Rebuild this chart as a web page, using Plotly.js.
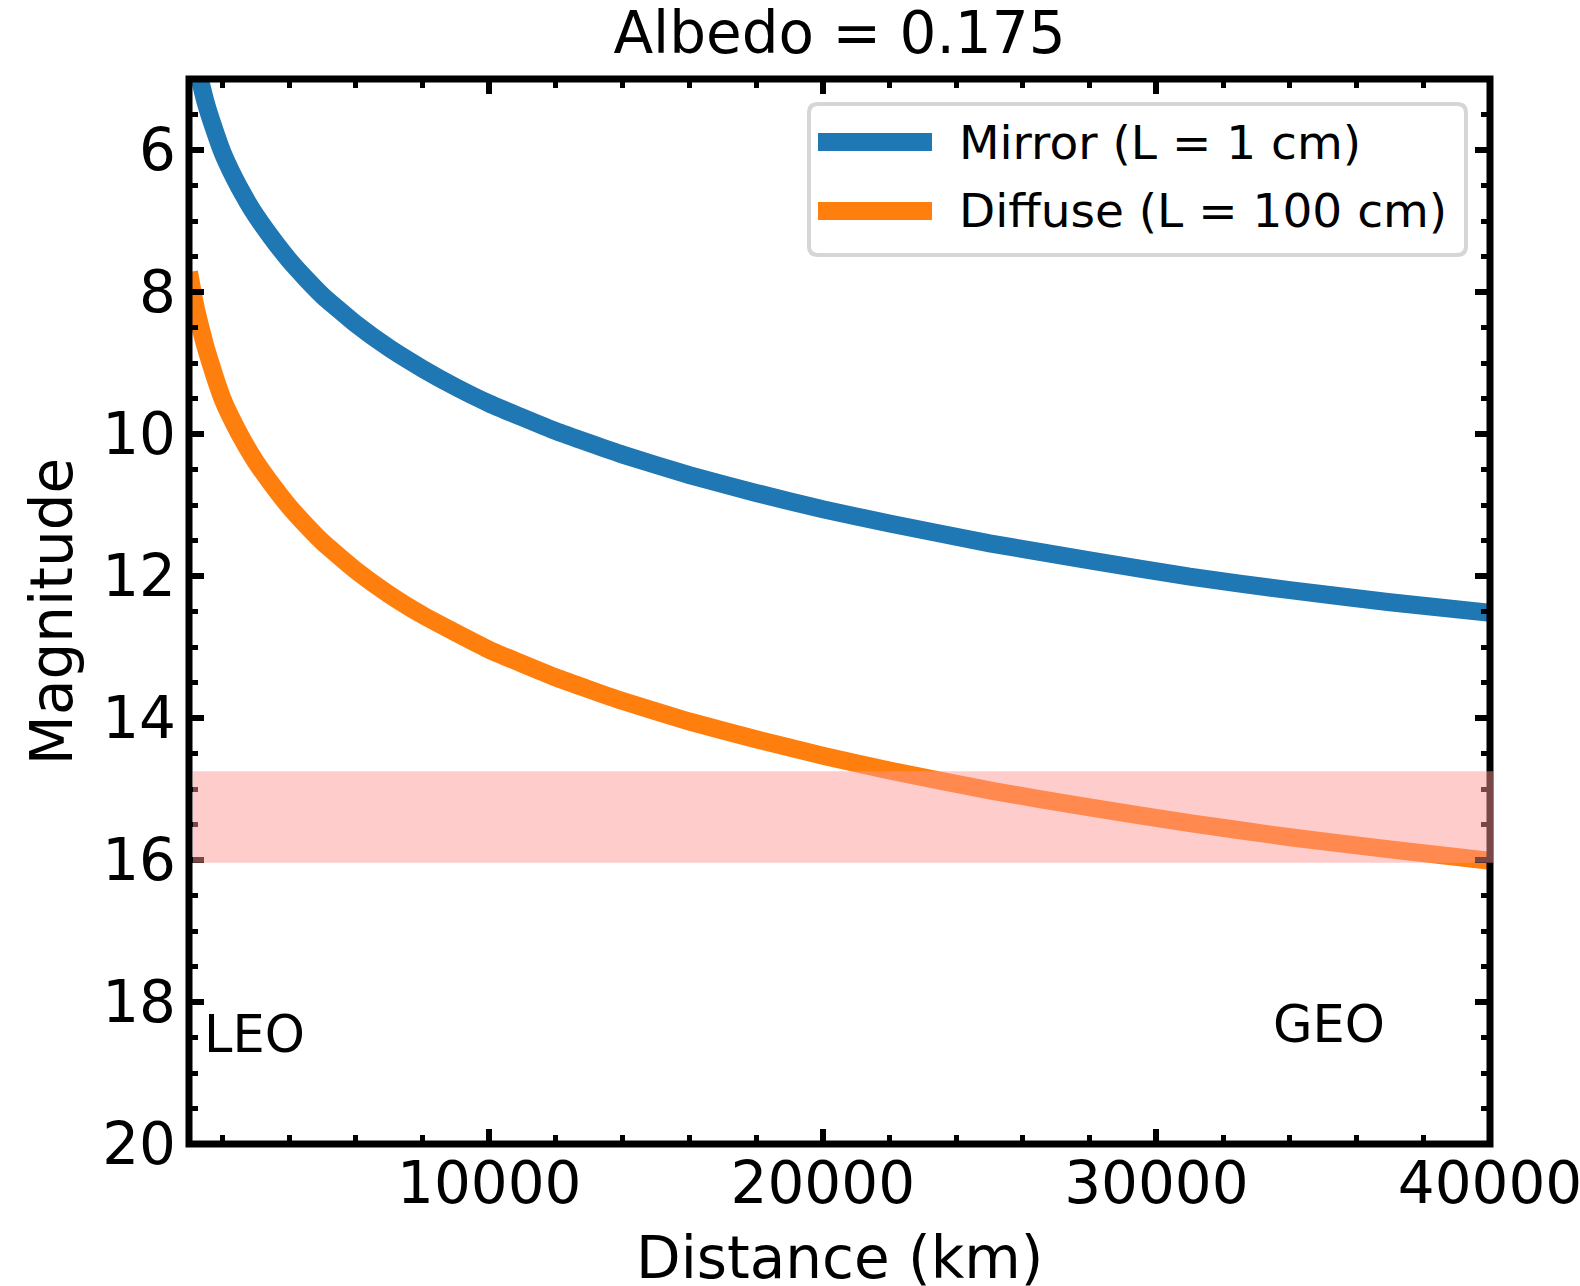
<!DOCTYPE html>
<html>
<head>
<meta charset="utf-8">
<script src="https://cdn.plot.ly/plotly-3.0.1.min.js"></script>
<style>
  html, body { margin: 0; padding: 0; background: #ffffff; }
  #chart { width: 1580px; height: 1286px; }
</style>
</head>
<body>
<div id="chart"></div>
<script>
// ---- data ----
const distanceKm = [1000, 1100, 1200, 1350, 1500, 1750, 2000, 2250, 2500, 2750, 3000,
                    3500, 4000, 4500, 5000, 6000, 7000, 8000, 9000,
                    10000, 12000, 14000, 16000, 18000, 20000, 22000, 25000, 28000,
                    31000, 34000, 37000, 40000];
const mirrorMag  = [4.30, 4.53, 4.75, 5.05, 5.33, 5.70, 6.03, 6.29, 6.52, 6.73, 6.92,
                    7.25, 7.55, 7.81, 8.05, 8.45, 8.79, 9.08, 9.34,
                    9.57, 9.96, 10.29, 10.58, 10.83, 11.06, 11.26, 11.54, 11.78,
                    12.01, 12.20, 12.37, 12.52];
const diffuseMag = [7.72, 7.98, 8.22, 8.51, 8.78, 9.16, 9.50, 9.76, 9.99, 10.20, 10.39,
                    10.72, 11.02, 11.28, 11.52, 11.92, 12.26, 12.55, 12.80,
                    13.04, 13.43, 13.76, 14.05, 14.30, 14.53, 14.74, 15.02, 15.26,
                    15.48, 15.68, 15.85, 16.01];
const seriesNames = ['Mirror (L = 1 cm)', 'Diffuse (L = 100 cm)'];
const seriesColors = ['#1f77b4', '#ff7f0e'];
const limitBand = [14.75, 16.04];          // shaded magnitude band
const regionLabels = ['LEO', 'GEO'];
const titleText = 'Albedo = 0.175';
const xTitle = 'Distance (km)';
const yTitle = 'Magnitude';

// ---- layout geometry ----
const W = 1580, H = 1286;
const M = {l: 189, r: 90, t: 79, b: 142};
const PW = W - M.l - M.r, PH = H - M.t - M.b;
const px = v => (v - M.l) / PW;        // page pixel -> paper x
const py = v => (H - M.b - v) / PH;    // page pixel -> paper y
const FONT = 'DejaVu Sans, Liberation Sans, sans-serif';

const traces = [
  {x: distanceKm, y: mirrorMag, name: seriesNames[0], type: 'scatter', mode: 'lines',
   line: {color: seriesColors[0], width: 18, shape: 'spline', smoothing: 0.4},
   showlegend: false, hoverinfo: 'skip'},
  {x: distanceKm, y: diffuseMag, name: seriesNames[1], type: 'scatter', mode: 'lines',
   line: {color: seriesColors[1], width: 18, shape: 'spline', smoothing: 0.4},
   showlegend: false, hoverinfo: 'skip'}
];

// rounded legend frame (paper coords)
function roundRect(x0, y0, x1, y1, r) {
  const rx = r / PW, ry = r / PH;
  const X0 = px(x0), X1 = px(x1), Y0 = py(y1), Y1 = py(y0);
  return `M${X0 + rx},${Y1} L${X1 - rx},${Y1} Q${X1},${Y1} ${X1},${Y1 - ry} ` +
         `L${X1},${Y0 + ry} Q${X1},${Y0} ${X1 - rx},${Y0} L${X0 + rx},${Y0} ` +
         `Q${X0},${Y0} ${X0},${Y0 + ry} L${X0},${Y1 - ry} Q${X0},${Y1} ${X0 + rx},${Y1} Z`;
}

const legendRows = [142, 211];
const shapes = [
  {type: 'rect', xref: 'paper', yref: 'paper', x0: 0, x1: 1, y0: 0, y1: 1,
   line: {color: '#000000', width: 7}, fillcolor: 'rgba(0,0,0,0)', layer: 'above'},
  {type: 'rect', xref: 'paper', yref: 'y', x0: px(193), x1: px(1493.5),
   y0: limitBand[0], y1: limitBand[1],
   line: {width: 0}, fillcolor: 'rgba(255,148,148,0.48)', layer: 'above'},
  {type: 'path', xref: 'paper', yref: 'paper', path: roundRect(809, 104, 1466, 255, 9),
   line: {color: '#d6d6d6', width: 4}, fillcolor: 'rgba(255,255,255,0.8)', layer: 'above'}
];
legendRows.forEach((yy, i) => {
  shapes.push({type: 'line', xref: 'paper', yref: 'paper',
    x0: px(818), x1: px(932), y0: py(yy), y1: py(yy),
    line: {color: seriesColors[i], width: 18}, layer: 'above'});
});

const annotations = [];
legendRows.forEach((yy, i) => {
  annotations.push({xref: 'paper', yref: 'paper', x: px(957), y: py(yy),
    xanchor: 'left', yanchor: 'middle', showarrow: false, text: seriesNames[i],
    font: {family: FONT, size: 47, color: '#000'}});
});
annotations.push({xref: 'x', yref: 'y', x: 1390, y: 18.46, xanchor: 'left', yanchor: 'middle',
  showarrow: false, text: regionLabels[0], font: {family: FONT, size: 51, color: '#000'}});
annotations.push({xref: 'x', yref: 'y', x: 35160, y: 18.31, xanchor: 'center', yanchor: 'middle',
  showarrow: false, text: regionLabels[1], font: {family: FONT, size: 51, color: '#000'}});
// x-axis title (placed as annotation so it can sit at the very bottom edge like the reference)
annotations.push({xref: 'paper', yref: 'paper', x: 0.5, y: py(1258), xanchor: 'center', yanchor: 'middle',
  showarrow: false, text: xTitle, font: {family: FONT, size: 58, color: '#000'}});

const layout = {
  width: W, height: H,
  margin: M,
  paper_bgcolor: '#ffffff', plot_bgcolor: '#ffffff',
  font: {family: FONT, color: '#000'},
  showlegend: false,
  title: {text: titleText, font: {family: FONT, size: 58, color: '#000'},
          x: 0.5, xref: 'paper', xanchor: 'center', y: 1 - 33 / H, yref: 'container', yanchor: 'middle'},
  xaxis: {
    range: [1000, 40000], autorange: false,
    tickmode: 'linear', tick0: 0, dtick: 10000, tickformat: 'd',
    ticks: 'inside', ticklen: 15, tickwidth: 6, tickcolor: '#000',
    minor: {ticks: 'inside', dtick: 2000, tick0: 0, ticklen: 9, tickwidth: 5, tickcolor: '#000', showgrid: false},
    mirror: 'ticks', showline: false, showgrid: false, zeroline: false,
    tickfont: {family: FONT, size: 58, color: '#000'},
    ticklabelstandoff: 0, ticklabeloverflow: 'allow',
    automargin: false
  },
  yaxis: {
    range: [20, 5], autorange: false,
    tickmode: 'linear', tick0: 0, dtick: 2,
    ticks: 'inside', ticklen: 15, tickwidth: 6, tickcolor: '#000',
    minor: {ticks: 'inside', dtick: 0.5, tick0: 0, ticklen: 9, tickwidth: 5, tickcolor: '#000', showgrid: false},
    mirror: 'ticks', showline: false, showgrid: false, zeroline: false,
    tickfont: {family: FONT, size: 58, color: '#000'},
    ticklabelstandoff: 12, ticklabeloverflow: 'allow',
    title: {text: yTitle, font: {family: FONT, size: 58, color: '#000'}, standoff: 10},
    automargin: false
  },
  shapes: shapes,
  annotations: annotations
};

Plotly.newPlot('chart', traces, layout, {displayModeBar: false, staticPlot: true});
</script>
</body>
</html>
